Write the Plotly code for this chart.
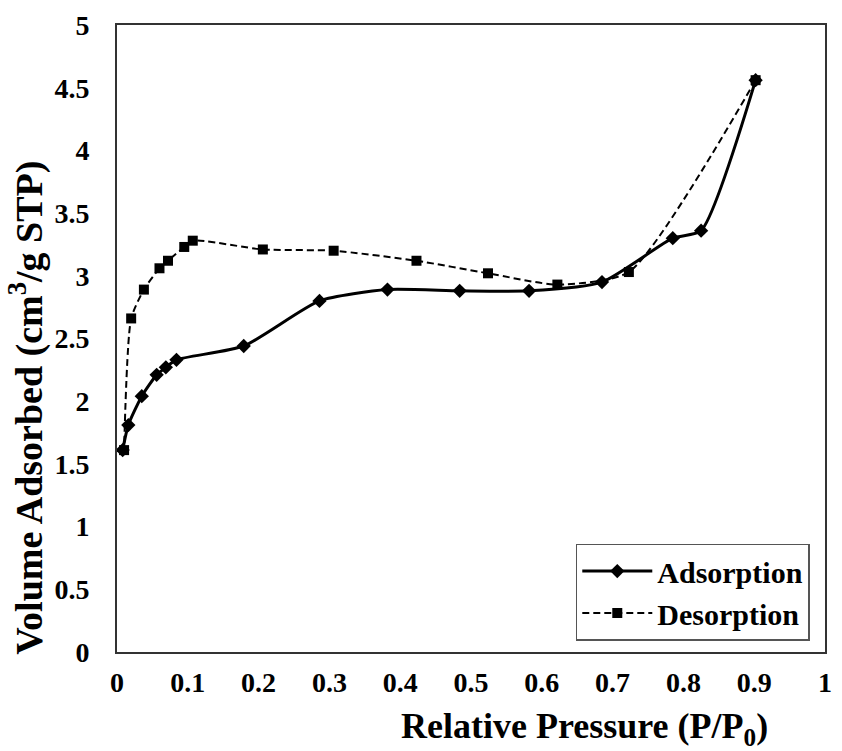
import plotly.graph_objects as go

# Nitrogen isotherm: relative pressure (P/P0) vs. volume adsorbed (cm3/g STP)
ads_p = [0.008, 0.016, 0.035, 0.056, 0.069, 0.084, 0.179, 0.286, 0.382, 0.484, 0.582, 0.685, 0.785, 0.825, 0.902]
ads_v = [1.61, 1.81, 2.04, 2.21, 2.27, 2.33, 2.44, 2.80, 2.89, 2.88, 2.88, 2.95, 3.30, 3.36, 4.56]

des_p = [0.902, 0.723, 0.622, 0.524, 0.423, 0.306, 0.206, 0.107, 0.095, 0.072, 0.060, 0.038, 0.020, 0.010]
des_v = [4.56, 3.03, 2.93, 3.02, 3.12, 3.20, 3.21, 3.28, 3.23, 3.12, 3.06, 2.89, 2.66, 1.61]

x_ticks = [0, 0.1, 0.2, 0.3, 0.4, 0.5, 0.6, 0.7, 0.8, 0.9, 1]
x_tick_text = ["0", "0.1", "0.2", "0.3", "0.4", "0.5", "0.6", "0.7", "0.8", "0.9", "1"]
y_ticks = [0, 0.5, 1, 1.5, 2, 2.5, 3, 3.5, 4, 4.5, 5]
y_tick_text = ["0", "0.5", "1", "1.5", "2", "2.5", "3", "3.5", "4", "4.5", "5"]

SERIF = "Liberation Serif, Times New Roman, serif"
TICK_FONT = dict(family=SERIF, size=28, color="black", weight="bold")

fig = go.Figure()
fig.add_trace(go.Scatter(
    x=ads_p, y=ads_v, name="Adsorption", mode="lines+markers",
    line=dict(color="black", width=3, shape="spline", smoothing=0.6),
    marker=dict(symbol="diamond", size=11, color="black"),
))
fig.add_trace(go.Scatter(
    x=des_p, y=des_v, name="Desorption", mode="lines+markers",
    line=dict(color="black", width=2, dash="7px,4px", shape="spline", smoothing=0.6),
    marker=dict(symbol="square", size=10, color="black"),
))

fig.update_layout(
    width=842, height=751,
    margin=dict(l=117, r=10, t=21, b=99),
    paper_bgcolor="white", plot_bgcolor="white",
    font=dict(family=SERIF, size=28, color="black", weight="bold"),
    legend=dict(
        x=0.648, y=0.173, xanchor="left", yanchor="top",
        bordercolor="#555555", borderwidth=1.5, bgcolor="white",
        font=dict(family=SERIF, size=30, color="black", weight="bold"),
        itemwidth=70, tracegroupgap=0,
    ),
    showlegend=True,
)

fig.update_xaxes(
    range=[0, 1], tickmode="array", tickvals=x_ticks, ticktext=x_tick_text,
    tickfont=TICK_FONT, ticklabelstandoff=4,
    showgrid=False, zeroline=False, showline=True, mirror=True,
    linecolor="#333333", linewidth=2, ticks="",
)
fig.update_yaxes(
    range=[0, 5], tickmode="array", tickvals=y_ticks, ticktext=y_tick_text,
    tickfont=TICK_FONT, ticklabelstandoff=20,
    showgrid=False, zeroline=False, showline=True, mirror=True,
    linecolor="#333333", linewidth=2, ticks="",
)

# Axis titles
fig.add_annotation(
    text="Relative Pressure (P/P<sub>0</sub>)", xref="paper", yref="paper",
    x=0.66, y=-0.122, xanchor="center", yanchor="middle", showarrow=False,
    font=dict(family=SERIF, size=36, color="black", weight="bold"),
)
fig.add_annotation(
    text="Volume Adsorbed (cm<sup>3</sup>/g STP)", xref="paper", yref="paper",
    x=-0.128, y=0.39, xanchor="center", yanchor="middle", showarrow=False,
    textangle=-90,
    font=dict(family=SERIF, size=38, color="black", weight="bold"),
)

fig.write_html("out.html")
